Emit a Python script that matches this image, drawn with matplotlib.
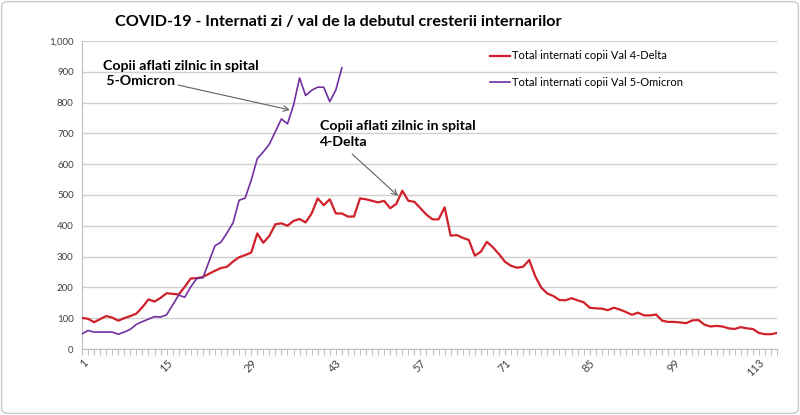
import matplotlib
matplotlib.use("Agg")
import matplotlib.pyplot as plt
from matplotlib.ticker import FuncFormatter, MultipleLocator, FixedLocator
from matplotlib.patches import FancyBboxPatch

plt.rcParams['font.family'] = ['Lato', 'DejaVu Sans']

title = "COVID-19 - Internati zi / val de la debutul cresterii internarilor"
label_delta = "Total internati copii Val 4-Delta"
label_omicron = "Total internati copii Val 5-Omicron"
note_omicron = "Copii aflati zilnic in spital\n 5-Omicron"
note_delta = "Copii aflati zilnic in spital\n4-Delta"

delta = [101, 98, 87, 97, 107, 102, 92, 100, 107, 115,
         136, 161, 154, 166, 181, 179, 177, 202, 229, 230,
         234, 244, 254, 263, 267, 284, 298, 305, 313, 375,
         345, 367, 405, 408, 400, 416, 422, 411, 440, 489,
         467, 486, 440, 440, 430, 430, 489, 486, 481, 476,
         481, 457, 471, 514, 481, 478, 457, 436, 421, 421,
         460, 368, 370, 361, 354, 303, 316, 348, 330, 308,
         283, 270, 264, 267, 289, 236, 199, 180, 172, 159,
         158, 165, 158, 152, 134, 132, 131, 126, 134, 128,
         120, 111, 118, 109, 109, 112, 92, 88, 88, 86,
         84, 93, 94, 79, 73, 75, 73, 67, 65, 71,
         67, 65, 52, 48, 48, 52]

omicron = [49, 60, 55, 55, 55, 55, 48, 55, 64, 80,
           89, 97, 105, 104, 111, 143, 175, 168, 202, 229,
           231, 283, 335, 347, 377, 410, 483, 490, 548, 618,
           640, 665, 706, 747, 731, 792, 880, 823, 840, 850,
           850, 803, 841, 913]

x_ticks = [1, 15, 29, 43, 57, 71, 85, 99, 113]

days_delta = list(range(1, len(delta) + 1))
days_omicron = list(range(1, len(omicron) + 1))

fig = plt.figure(figsize=(8.0, 4.15), dpi=100)
ax = fig.add_axes([82/800, 66/415, 695/800, 308/415])

ax.plot(days_delta, delta, color='#d0202a', lw=1.6, label=label_delta, zorder=3)
ax.plot(days_omicron, omicron, color='#7030a0', lw=1.2, label=label_omicron, zorder=3)

ax.set_xlim(1, len(delta))
ax.set_ylim(0, 1000)
ax.yaxis.set_major_locator(MultipleLocator(100))
ax.yaxis.set_major_formatter(FuncFormatter(lambda v, p: f"{int(v):,}"))
ax.grid(axis='y', color='#d0d0d0', lw=1.0)
ax.set_axisbelow(True)

ax.xaxis.set_major_locator(FixedLocator(x_ticks))
ax.xaxis.set_minor_locator(MultipleLocator(1))
ax.tick_params(axis='x', which='both', direction='out', length=4, width=0.8,
               color='#bfbfbf', labelsize=8, labelcolor='#404040', pad=2)
ax.tick_params(axis='y', length=0, labelsize=7, labelcolor='#404040', pad=6)
for lab in ax.get_xticklabels():
    lab.set_rotation(45)
    lab.set_ha('right')
    lab.set_rotation_mode('anchor')

for s in ['top', 'right']:
    ax.spines[s].set_visible(False)
ax.spines['left'].set_color('#bfbfbf')
ax.spines['bottom'].set_color('#bfbfbf')

fig.text(338/800, 1 - 22/415, title, ha='center', va='center',
         fontsize=11.6, fontweight='bold', color='black')

leg = ax.legend(loc='upper left', bbox_to_anchor=(404/695, 1 - 5/308),
                frameon=False, fontsize=8, handlelength=1.8, handletextpad=0.15,
                labelspacing=1.4, borderaxespad=0)

ax.text(4.5, 894, note_omicron, fontsize=10.2, fontweight='bold',
        ha='left', va='center', linespacing=1.35)
ax.text(40.4, 698, note_delta, fontsize=10.2, fontweight='bold',
        ha='left', va='center', linespacing=1.35)

arrow_style = dict(arrowstyle='->', color='#606060', lw=0.8,
                   shrinkA=0, shrinkB=0, mutation_scale=10)
ax.annotate('', xy=(35.4, 776), xytext=(16.9, 857), arrowprops=arrow_style)
ax.annotate('', xy=(53.3, 497), xytext=(45.7, 633), arrowprops=arrow_style)

border = FancyBboxPatch((0.002, 0.004), 0.996, 0.992, boxstyle='round,pad=0,rounding_size=0.01',
                        transform=fig.transFigure, fill=False, ec='#c8c8c8', lw=1.0)
fig.patches.append(border)

fig.savefig('out.png', dpi=100, facecolor='white')
